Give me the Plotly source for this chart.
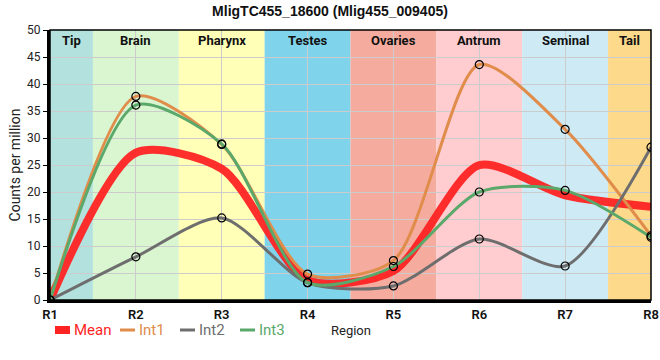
import plotly.graph_objects as go

regions = ["R1", "R2", "R3", "R4", "R5", "R6", "R7", "R8"]
int1 = [0, 37.7, 28.8, 4.8, 7.3, 43.6, 31.6, 11.9]
int2 = [0, 8.0, 15.2, 3.2, 2.6, 11.3, 6.3, 28.3]
int3 = [0, 36.1, 28.9, 3.2, 6.2, 20.0, 20.3, 11.6]
mean = [round((a + b + c) / 3, 2) for a, b, c in zip(int1, int2, int3)]

tissues = ["Tip", "Brain", "Pharynx", "Testes", "Ovaries", "Antrum", "Seminal", "Tail"]
tissue_colors = ["#b3e2de", "#d9f6d0", "#ffffb8", "#7fd4ec", "#f5ab9e", "#ffcccf", "#cdeaf5", "#fdd98b"]

W, H = 660, 360
ML, MR, MT, MB = 50, 9, 30, 60
PW, PH = W - ML - MR, H - MT - MB

def px2paper(px, py):
    return (px - ML) / PW, (H - MB - py) / PH

fig = go.Figure()
xs = list(range(len(regions)))

series = [
    ("Mean", mean, "#ff2424", 8, False),
    ("Int1", int1, "#e08c4a", 3, True),
    ("Int2", int2, "#6e6e6e", 3, True),
    ("Int3", int3, "#5aa86a", 3, True),
]

for name, vals, color, w, mk in series:
    fig.add_trace(go.Scatter(
        x=xs, y=vals, mode="lines", name=name, showlegend=False,
        line=dict(color=color, width=w, shape="spline", smoothing=0.75),
        opacity=0.95 if name == "Mean" else 1,
        hoverinfo="x+y",
    ))
for name, vals, color, w, mk in series:
    if mk:
        fig.add_trace(go.Scatter(
            x=xs, y=vals, mode="markers", showlegend=False, name=name,
            marker=dict(symbol="circle-open", size=8, color="black", line=dict(width=1.2)),
            hoverinfo="x+y",
        ))

shapes = []
n = len(regions)
for i, (t, c) in enumerate(zip(tissues, tissue_colors)):
    x0 = max(0, i - 0.5)
    x1 = min(n - 1, i + 0.5)
    shapes.append(dict(type="rect", xref="x", yref="paper", x0=x0, x1=x1, y0=0, y1=1,
                       fillcolor=c, line=dict(width=0), layer="below"))
shapes.append(dict(type="rect", xref="paper", yref="paper", x0=0, x1=1, y0=0, y1=1,
                   line=dict(color="black", width=1.5), layer="above"))

annotations = []
for i, t in enumerate(tissues):
    x0 = max(0, i - 0.5)
    x1 = min(n - 1, i + 0.5)
    annotations.append(dict(x=(x0 + x1) / 2, y=0.995, xref="x", yref="paper", text=f"<b>{t}</b>",
                            showarrow=False, yanchor="top", font=dict(size=13, color="#111")))

# manual legend (line swatch + coloured text)
legend_x = [55, 120, 180, 240]
legend_y = 330
for (name, vals, color, w, mk), lx in zip(series, legend_x):
    x0, y0 = px2paper(lx, legend_y)
    x1, _ = px2paper(lx + 15, legend_y)
    shapes.append(dict(type="line", xref="paper", yref="paper", x0=x0, x1=x1, y0=y0, y1=y0,
                       line=dict(color=color, width=w)))
    tx, _ = px2paper(lx + 17, legend_y)
    annotations.append(dict(x=tx, y=y0, xref="paper", yref="paper", text=name, showarrow=False,
                            xanchor="left", yanchor="middle", font=dict(size=15, color=color)))
rx, ry = px2paper(351, legend_y)
annotations.append(dict(x=rx, y=ry, xref="paper", yref="paper", text="Region",
                        showarrow=False, yanchor="middle", xanchor="center",
                        font=dict(size=13, color="#222")))

fig.update_layout(
    width=W, height=H,
    margin=dict(l=ML, r=MR, t=MT, b=MB, autoexpand=False),
    paper_bgcolor="white", plot_bgcolor="white",
    font=dict(family="Roboto, Arial, sans-serif", color="#222"),
    title=dict(text="<b>MligTC455_18600 (Mlig455_009405)</b>", x=0.5, xanchor="center",
               y=1 - 11 / H, yanchor="middle", font=dict(size=14, family="Arial, sans-serif", color="#111"),
               automargin=False),
    shapes=shapes, annotations=annotations,
    showlegend=False,
    xaxis=dict(tickmode="array", tickvals=xs, ticktext=regions, range=[0, n - 1],
               showgrid=True, gridcolor="#cccccc", gridwidth=1, zeroline=False,
               showline=True, linecolor="black", linewidth=3, automargin=False,
               ticks="", tickfont=dict(size=13, color="#111", weight=600)),
    yaxis=dict(range=[0, 50], dtick=5, showgrid=True, gridcolor="#cccccc", gridwidth=1,
               zeroline=False, showline=True, linecolor="black", linewidth=3, automargin=False,
               ticks="outside", ticklen=4, tickcolor="black",
               tickfont=dict(size=12, color="#222"),
               title=dict(text="Counts per million", font=dict(size=14, color="#222"), standoff=4)),
)

fig.write_html("out.html", post_script="document.body.style.margin='0';",
               config={"displayModeBar": False})
